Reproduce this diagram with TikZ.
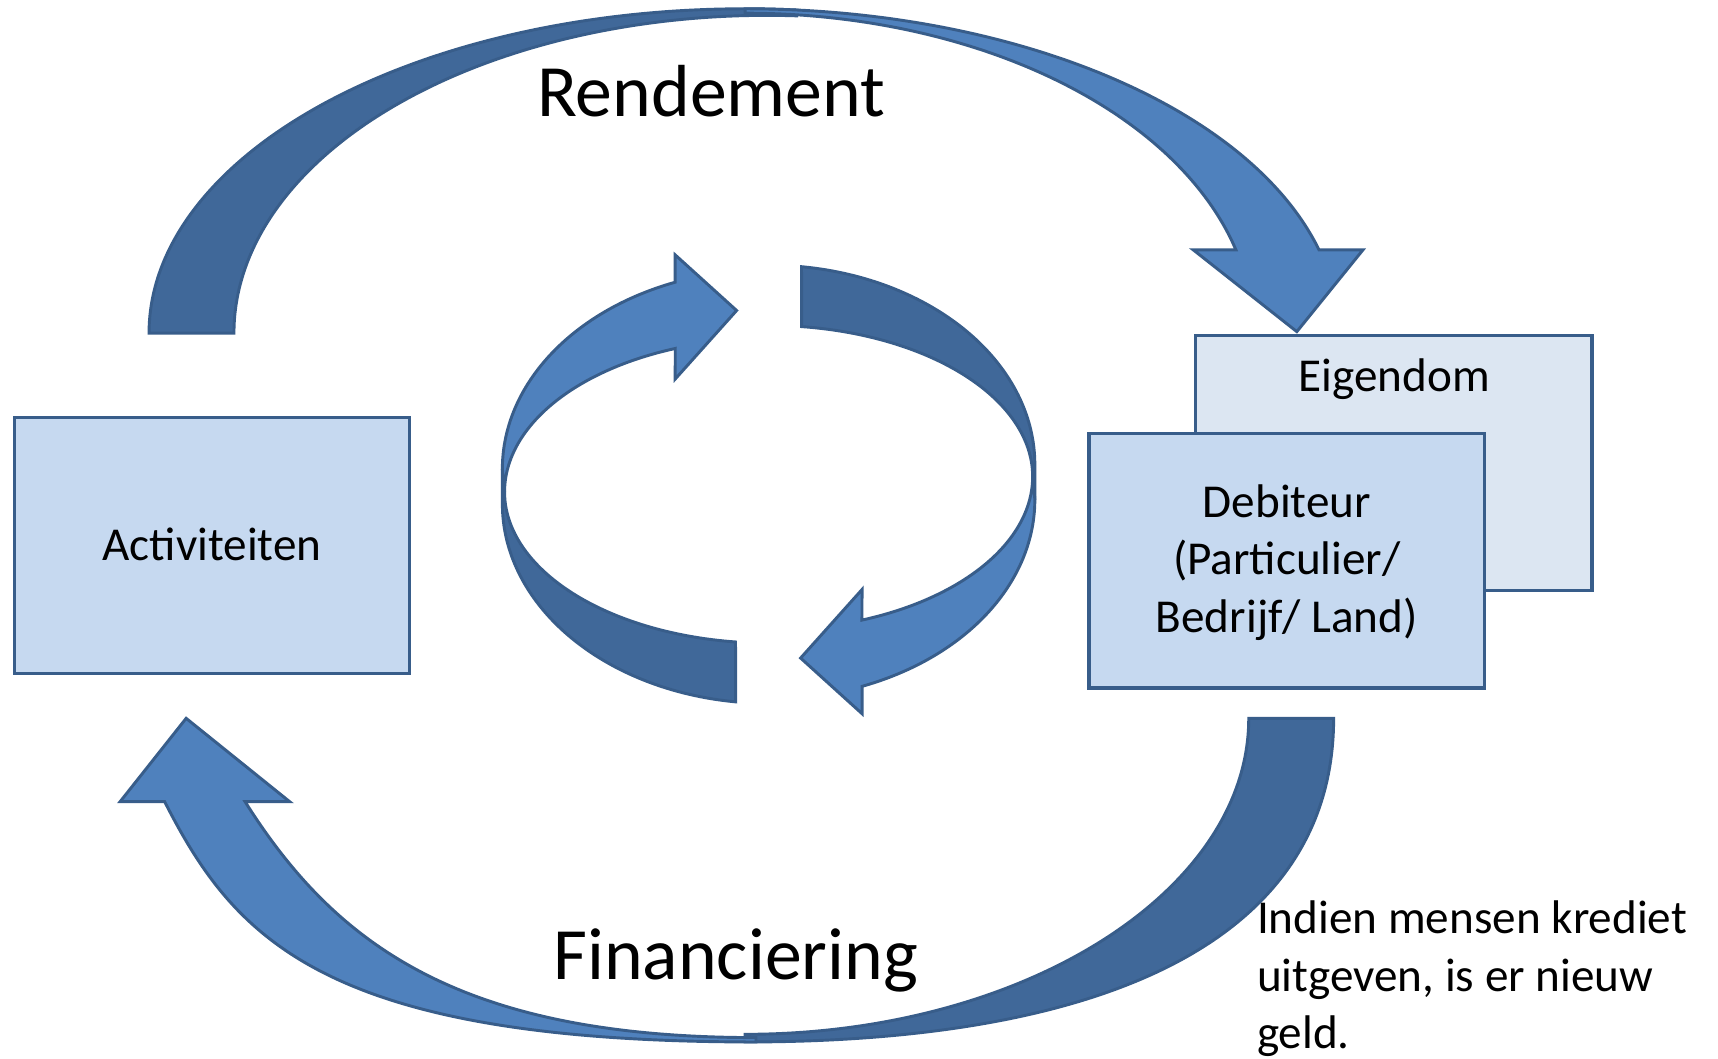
\documentclass[tikz,border=0pt]{standalone}
\usepackage{fontspec}
\setmainfont{Carlito}
\definecolor{lightblue}{RGB}{79,129,189}
\definecolor{darkblue}{RGB}{64,104,153}
\definecolor{edgeblue}{RGB}{56,93,138}
\definecolor{boxfill}{RGB}{198,217,240}
\definecolor{boxfillpale}{RGB}{220,230,242}
\begin{document}
\begin{tikzpicture}[x=0.75pt,y=-0.75pt,
  front/.style={fill=lightblue,draw=edgeblue,line width=2pt,line join=miter},
  back/.style={fill=darkblue,draw=edgeblue,line width=2pt,line join=miter},
  box/.style={draw=edgeblue,line width=2.2pt,fill=boxfill,rectangle,inner sep=0pt},
  small/.style={font=\fontsize{32.3pt}{39.3pt}\selectfont,inner sep=0pt},
  big/.style={font=\fontsize{50.5pt}{60pt}\selectfont,inner sep=0pt},
  halfloop/.pic={
    \filldraw[back] (-243,-14) -- (-243,18)
      -- plot[domain=180:97.1,samples=50,smooth] ({243*cos(\x)},{18+182*sin(\x)})
      -- plot[domain=97.2:180,samples=50,smooth] ({241*cos(\x)},{7+138*sin(\x)}) -- cycle;
    \filldraw[front] (-243,-14)
      -- plot[domain=180:249.45,samples=50,smooth] ({243*cos(\x)},{-14+182*sin(\x)})
      -- (-85.3,-209.4) -- (-29.2,-158.6) -- (-85.3,-96)
      -- plot[domain=249.3:180,samples=50,smooth] ({241*cos(\x)},{7+140*sin(\x)}) -- cycle;
  }]
\fill[white] (0,0) rectangle (1568,966);
\useasboundingbox (0,0) rectangle (1568,966);

% top curved arrow: back (dark) part
\filldraw[back] (136,304)
  -- plot[domain=180:275,samples=60,smooth] ({680+544*cos(\x)},{304+296*sin(\x)})
  -- plot[domain=273.2:180,samples=60,smooth] ({700+486.5*cos(\x)},{304+290*sin(\x)})
  -- cycle;
% top curved arrow: front (light) part with head
\filldraw[front] (680,8)
  -- plot[domain=270:345.12,samples=60,smooth] ({680+542*cos(\x)},{304+296*sin(\x)})
  -- (1244,228) -- (1183.6,302.7) -- (1089,228)
  -- plot[domain=344.91:270,samples=60,smooth] ({680+464*cos(\x)},{304+292*sin(\x)})
  -- cycle;

% bottom curved arrow: back (dark) part
\filldraw[back] (1217.2,655.6)
  .. controls (1217.2,847.4) and (1029,951) .. (680,951)
  -- (680,944)
  .. controls (932.8,944) and (1139.7,814.2) .. (1139.7,655.6)
  -- cycle;
% bottom curved arrow: front (light) part with head
\filldraw[front] (690,951)
  .. controls (296,951) and (214.1,857) .. (150.3,731.7)
  -- (109.6,731.7) -- (169.9,655.6) -- (264.4,731.7) -- (223.7,731.7)
  .. controls (306.1,862.2) and (420,947) .. (690,947)
  -- cycle;

% central circular arrows
\pic at (701.5,442) {halfloop};
\pic[rotate=180] at (701.5,442) {halfloop};

% boxes
\node[box,minimum width=270.75pt,minimum height=175.5pt] (act) at (193.5,498) {};
\node[box,fill=boxfillpale,minimum width=271.5pt,minimum height=174.75pt] (eig) at (1272,422.5) {};
\node[box,minimum width=270.75pt,minimum height=174pt] (deb) at (1174.5,512) {};

% texts
\node[big,anchor=base] (rend) at (649,106.4) {Rendement};
\node[big,anchor=base] (fin) at (671.5,893.8) {Financiering};
\node[small,anchor=base] (acttext) at (193.5,512) {Activiteiten};
\node[small,anchor=base] (eigtext) at (1272.6,357.7) {Eigendom};
\node[small,anchor=base,align=center] (debtext) at (1174.5,577) {Debiteur\\(Particulier/\\Bedrijf/ Land)};
\node[small,anchor=base west,align=left] (note) at (1147,957) {Indien mensen krediet\\uitgeven, is er nieuw\\geld.};
\end{tikzpicture}
\end{document}
